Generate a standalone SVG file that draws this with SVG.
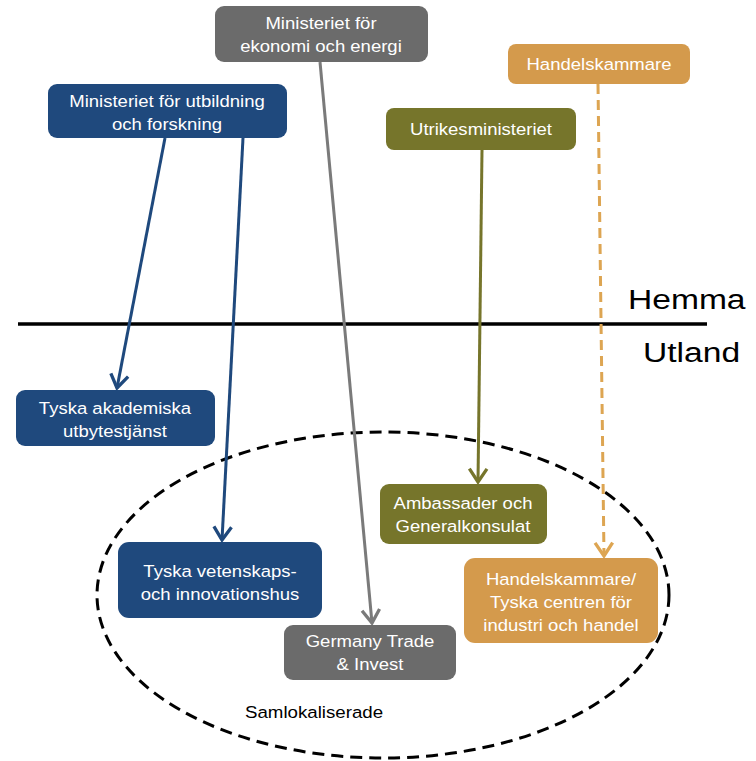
<svg xmlns="http://www.w3.org/2000/svg" width="756" height="761" viewBox="0 0 756 761">
<defs>
<style>
.n{font-family:"Liberation Sans",Arial,sans-serif;font-size:17px;fill:#fff;text-anchor:middle}
.big{font-family:"Liberation Sans",Arial,sans-serif;font-size:28px;fill:#000}
.lbl{font-family:"Liberation Sans",Arial,sans-serif;font-size:17px;fill:#000}
.c{fill:none;stroke-width:3}
</style>
<marker id="ab" viewBox="0 0 20 20" refX="16" refY="10" markerWidth="22" markerHeight="22" markerUnits="userSpaceOnUse" orient="auto"><path d="M4,2 L16,10 L4,18" fill="none" stroke="#1f497d" stroke-width="3"/></marker>
<marker id="ag" viewBox="0 0 20 20" refX="16" refY="10" markerWidth="22" markerHeight="22" markerUnits="userSpaceOnUse" orient="auto"><path d="M4,2 L16,10 L4,18" fill="none" stroke="#7a7a7a" stroke-width="3"/></marker>
<marker id="ao" viewBox="0 0 20 20" refX="16" refY="10" markerWidth="22" markerHeight="22" markerUnits="userSpaceOnUse" orient="auto"><path d="M4,2 L16,10 L4,18" fill="none" stroke="#76752b" stroke-width="3"/></marker>
<marker id="ay" viewBox="0 0 20 20" refX="16" refY="10" markerWidth="22" markerHeight="22" markerUnits="userSpaceOnUse" orient="auto"><path d="M4,2 L16,10 L4,18" fill="none" stroke="#dda552" stroke-width="3"/></marker>
</defs>
<rect width="756" height="761" fill="#fff"/>
<ellipse cx="383" cy="595" rx="286" ry="163" fill="none" stroke="#000" stroke-width="3" stroke-dasharray="12,7"/>
<line x1="18" y1="324" x2="707" y2="324" stroke="#000" stroke-width="3.5"/>
<text class="big" transform="translate(628 309) scale(1.2 1)">Hemma</text>
<text class="big" transform="translate(643 362) scale(1.2 1)">Utland</text>
<text class="lbl" transform="translate(245 718) scale(1.1 1)">Samlokaliserade</text>
<g id="connectors">
<line class="c" x1="165" y1="138" x2="117" y2="388" stroke="#1f497d" marker-end="url(#ab)"/>
<line class="c" x1="243" y1="138" x2="222" y2="540" stroke="#1f497d" marker-end="url(#ab)"/>
<line class="c" x1="320" y1="62" x2="372" y2="623" stroke="#7a7a7a" marker-end="url(#ag)"/>
<line class="c" x1="482" y1="150" x2="478" y2="482" stroke="#76752b" marker-end="url(#ao)"/>
<line class="c" x1="598" y1="84" x2="604" y2="556" stroke="#dda552" stroke-dasharray="10,6" marker-end="url(#ay)"/>
</g>
<g id="n-ekonomi"><rect x="215" y="6" width="213" height="56" rx="9" fill="#6b6b6b"/><text class="n" transform="translate(321 29) scale(1.09 1)">Ministeriet för</text><text class="n" transform="translate(321 52) scale(1.09 1)">ekonomi och energi</text></g>
<g id="n-utbildning"><rect x="48" y="84" width="239" height="54" rx="9" fill="#1f497d"/><text class="n" transform="translate(167 107) scale(1.09 1)">Ministeriet för utbildning</text><text class="n" transform="translate(167 130) scale(1.09 1)">och forskning</text></g>
<g id="n-utrikes"><rect x="386" y="108" width="190" height="42" rx="8" fill="#76752b"/><text class="n" transform="translate(481 135) scale(1.09 1)">Utrikesministeriet</text></g>
<g id="n-handelskammare"><rect x="508" y="44" width="182" height="40" rx="8" fill="#d49a4c"/><text class="n" transform="translate(599 70) scale(1.09 1)">Handelskammare</text></g>
<g id="n-akademiska"><rect x="16" y="390" width="199" height="56" rx="9" fill="#1f497d"/><text class="n" transform="translate(115 414) scale(1.09 1)">Tyska akademiska</text><text class="n" transform="translate(115 437) scale(1.09 1)">utbytestjänst</text></g>
<g id="n-vetenskaps"><rect x="118" y="542" width="204" height="76" rx="11" fill="#1f497d"/><text class="n" transform="translate(220 577) scale(1.09 1)">Tyska vetenskaps-</text><text class="n" transform="translate(220 600) scale(1.09 1)">och innovationshus</text></g>
<g id="n-gtai"><rect x="284" y="625" width="172" height="55" rx="9" fill="#6b6b6b"/><text class="n" transform="translate(370 647) scale(1.09 1)">Germany Trade</text><text class="n" transform="translate(370 670) scale(1.09 1)">&amp; Invest</text></g>
<g id="n-ambassader"><rect x="380" y="484" width="167" height="60" rx="9" fill="#76752b"/><text class="n" transform="translate(463 509) scale(1.09 1)">Ambassader och</text><text class="n" transform="translate(463 532) scale(1.09 1)">Generalkonsulat</text></g>
<g id="n-centren"><rect x="464" y="558" width="194" height="85" rx="11" fill="#d49a4c"/><text class="n" transform="translate(561 585) scale(1.09 1)">Handelskammare/</text><text class="n" transform="translate(561 608) scale(1.09 1)">Tyska centren för</text><text class="n" transform="translate(561 631) scale(1.09 1)">industri och handel</text></g>
</svg>
